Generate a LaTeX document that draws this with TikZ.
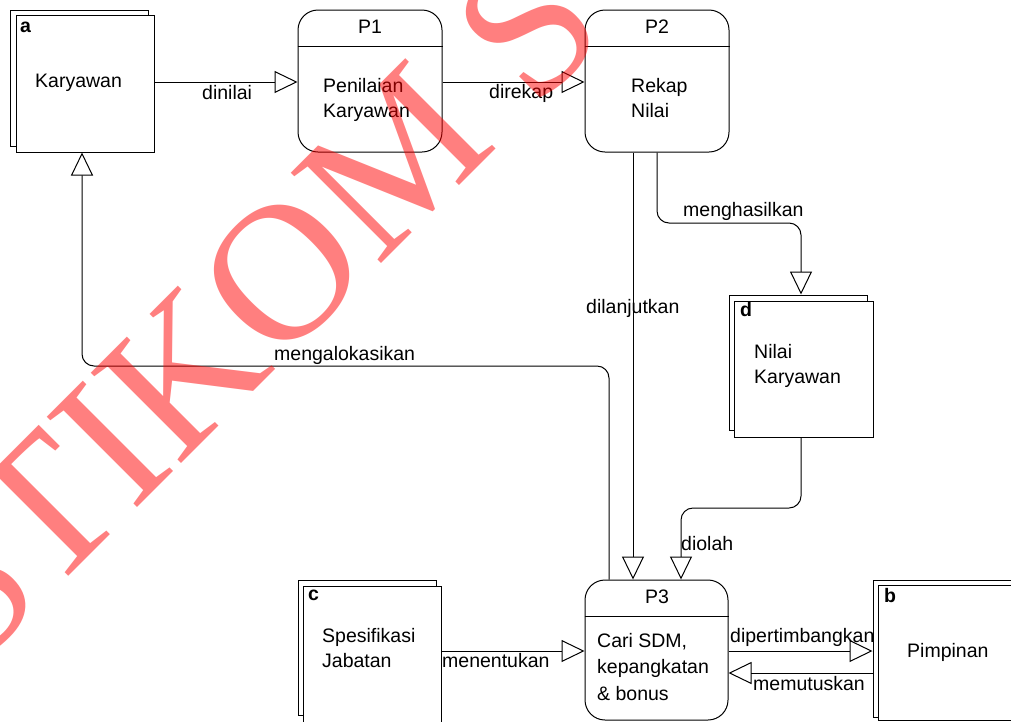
\documentclass[tikz,border=0pt]{standalone}
\usepackage{fontspec}
\setmainfont{Liberation Sans}
\newfontfamily\wmfont{Liberation Serif}
\usetikzlibrary{arrows.meta}
\tikzset{
  box/.style={draw, line width=1pt, fill=white, inner sep=0pt, minimum width=#1},
  proc/.style={draw, line width=1pt, fill=white, inner sep=0pt, rounded corners=20pt, minimum width=144pt, minimum height=142pt},
  flow/.style={line width=1pt, -{Triangle[open, length=23pt, width=22pt, line width=1pt]}},
  txt/.style={inner sep=0pt, anchor=base west, font=\fontsize{19.5}{25}\selectfont},
  ctxt/.style={inner sep=0pt, anchor=base, font=\fontsize{19.5}{25}\selectfont},
  lbl/.style={inner sep=0pt, anchor=base west, font=\fontsize{19.5}{25}\selectfont\bfseries},
  wm/.style={inner sep=0pt, text=red, text opacity=0.5, font=\wmfont\fontsize{195}{195}\selectfont}
}
\begin{document}
\begin{tikzpicture}[x=1pt, y=-1pt]
\useasboundingbox (0,0) rectangle (1011,721);
\clip (0,0) rectangle (1011,721);
\fill[white] (0,0) rectangle (1011,721);
% entity a
\node[box=138pt, minimum height=136pt] (aB) at (79,78) {};
\node[box=138pt, minimum height=137pt] (aF) at (85,83.5) {};
\node[lbl] (aL) at (20,32) {a};
\node[txt] (aT) at (35,87) {Karyawan};
% P1
\node[proc] (P1) at (370,81) {};
\draw[line width=1pt] (P1.west |- 0,46) -- (P1.east |- 0,46);
\node[ctxt] (P1L) at (370,33) {P1};
\node[txt] (P1a) at (323,92) {Penilaian};
\node[txt] (P1b) at (323,117) {Karyawan};
% P2
\node[proc] (P2) at (657,81) {};
\draw[line width=1pt] (P2.west |- 0,46) -- (P2.east |- 0,46);
\node[ctxt] (P2L) at (657,33) {P2};
\node[txt] (P2a) at (631,92) {Rekap};
\node[txt] (P2b) at (631,117) {Nilai};
% entity d
\node[box=138pt, minimum height=135pt] (dB) at (798,362.5) {};
\node[box=139pt, minimum height=136pt] (dF) at (803.5,369) {};
\node[lbl] (dL) at (740,316) {d};
\node[txt] (dTa) at (754,358) {Nilai};
\node[txt] (dTb) at (754,383) {Karyawan};
% entity c
\node[box=138pt, minimum height=135pt] (cB) at (367,647.5) {};
\node[box=138pt, minimum height=139pt] (cF) at (372,655.5) {};
\node[lbl] (cL) at (308,600) {c};
\node[txt] (cTa) at (322,642) {Spesifikasi};
\node[txt] (cTb) at (322,667) {Jabatan};
% P3
\node[proc, minimum width=143pt, minimum height=140pt] (P3) at (656.5,650) {};
\draw[line width=1pt] (P3.west |- 0,616) -- (P3.east |- 0,616);
\node[ctxt] (P3L) at (657,603) {P3};
\node[txt] (P3a) at (597,647) {Cari SDM,};
\node[txt] (P3b) at (597,673) {kepangkatan};
\node[txt] (P3c) at (597,700) {\& bonus};
% entity b
\node[box=147pt, minimum height=137pt] (bB) at (946.5,648.5) {};
\node[box=147pt, minimum height=135pt] (bF) at (951.5,652.5) {};
\node[lbl] (bL) at (884,602) {b};
\node[txt] (bT) at (907,657) {Pimpinan};
% connectors
\draw[flow] (aF.east |- 0,82) -- (P1.west |- 0,82);
\node[txt] (l1) at (202,99) {dinilai};
\draw[flow] (P1.east |- 0,82) -- (P2.west |- 0,82);
\node[txt] (l2) at (489,98) {direkap};
\draw[flow] (P2.south -| 633,0) -- (P3.north -| 633,0);
\node[txt] (l3) at (586,313) {dilanjutkan};
\draw[flow, rounded corners=12pt] (P2.south -| 657,0) -- (657,223) -- (801,223) -- (dB.north -| 801,0);
\node[txt] (l4) at (683,216) {menghasilkan};
\draw[flow, rounded corners=12pt] (dF.south -| 801,0) -- (801,508) -- (681,508) -- (P3.north -| 681,0);
\node[txt] (l5) at (681,550) {diolah};
\draw[flow, rounded corners=12pt] (P3.north -| 609,0) -- (609,366) -- (82,366) -- (aF.south -| 82,0);
\node[txt] (l6) at (274,360) {mengalokasikan};
\draw[flow] (cF.east |- 0,651) -- (P3.west |- 0,651);
\node[txt] (l7) at (442,667) {menentukan};
\draw[flow] (P3.east |- 0,651) -- (bB.west |- 0,651);
\node[txt] (l8) at (730,642) {dipertimbangkan};
\draw[flow] (bB.west |- 0,673) -- (P3.east |- 0,673);
\node[txt] (l9) at (753,690) {memutuskan};
% watermark
\node[wm, anchor=base west, rotate=45] (wmark) at (-29,674) {STIKOM S};
\end{tikzpicture}
\end{document}
